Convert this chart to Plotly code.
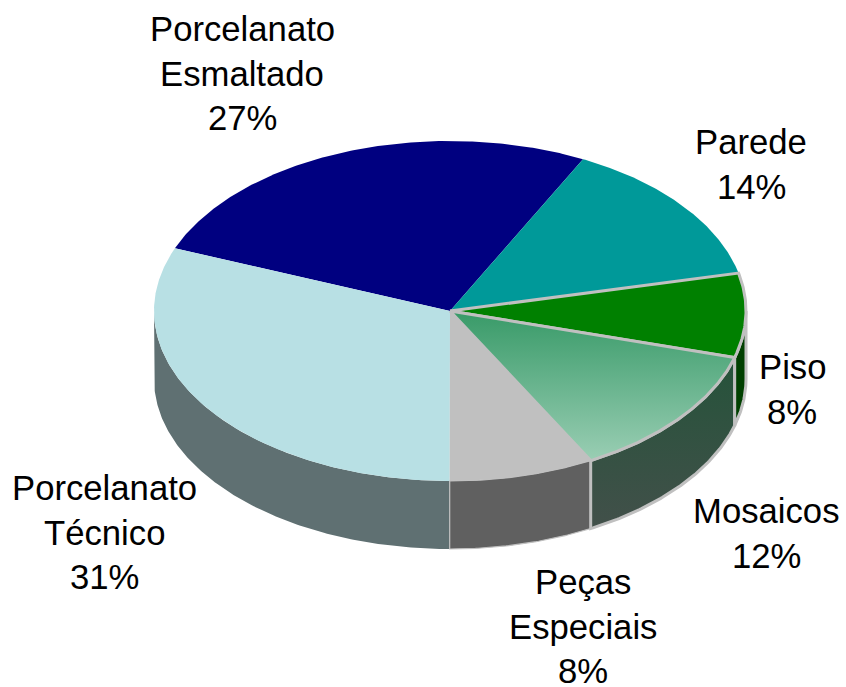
import numpy as np
import plotly.graph_objects as go

# Data
categories = ["Parede", "Piso", "Mosaicos", "Peças Especiais", "Porcelanato Técnico", "Porcelanato Esmaltado"]
shares = [14.0, 8.0, 12.7, 7.9, 31.0, 26.4]      # drawn slice sizes, %
printed = ["14%", "8%", "12%", "8%", "31%", "27%"]  # printed labels
top_colors = ["#009999", "#008000", None, "#C0C0C0", "#B8E0E4", "#000080"]
wall_colors = ["#004D4D", "#004000", None, "#606060", "#5F7072", "#000040"]
label_lines = [["Parede"], ["Piso"], ["Mosaicos"], ["Peças", "Especiais"],
               ["Porcelanato", "Técnico"], ["Porcelanato", "Esmaltado"]]
label_centers = [(751, 142), (792, 367), (766, 511), (583, 582), (104, 488), (242, 29)]

# Pie geometry (pixels)
CX, CY, RX, RY, DEPTH = 450, 311, 296, 170, 68
START = 26.7
LINE_GAP = 44.7
FONT = "Liberation Sans, Arial, sans-serif"
FONT_SIZE = 34.7
EDGE = "#C0C0C0"
MOSAIC_TOP = [[0, "#9ACEB4"], [1, "#389A68"]]
MOSAIC_WALL = [[0, "#42504A"], [1, "#25533A"]]


def arc(a0, a1, dy=0.0):
    t = np.radians(np.linspace(a0, a1, max(2, int(abs(a1 - a0) * 2) + 2)))
    return CX + RX * np.sin(t), CY + dy - RY * np.cos(t)


edges = START + np.concatenate([[0], np.cumsum(shares)]) / sum(shares) * 360
fig = go.Figure()


def polygon(x, y, color, line_w=0, line_c=EDGE, grad=None):
    kw = dict(x=x, y=y, mode="lines", fill="toself", hoverinfo="skip", showlegend=False,
              line=dict(width=line_w, color=line_c if line_w else "rgba(0,0,0,0)"))
    if grad:
        kw["fillgradient"] = dict(type="vertical", colorscale=grad)
    else:
        kw["fillcolor"] = color
    fig.add_trace(go.Scatter(**kw))


# Walls: only the part of each slice that faces the viewer (90..270 degrees)
wall_order = [4, 3, 2, 1]
for i in wall_order:
    a0, a1 = max(edges[i], 90), min(edges[i + 1], 270)
    if a1 <= a0:
        continue
    xt, yt = arc(a0, a1)
    xb, yb = arc(a1, a0, DEPTH)
    x = np.concatenate([xt, xb, xt[:1]])
    y = np.concatenate([yt, yb, yt[:1]])
    if i == 2:
        polygon(x, y, None, 3, EDGE, MOSAIC_WALL)
    elif i == 1:
        polygon(x, y, wall_colors[i], 3)
    elif i == 3:
        polygon(x, y, wall_colors[i], 1.2)
    else:
        polygon(x, y, wall_colors[i])

# Top faces
for i in [5, 0, 4, 3, 1, 2]:
    xa, ya = arc(edges[i], edges[i + 1])
    x = np.concatenate([[CX], xa, [CX]])
    y = np.concatenate([[CY], ya, [CY]])
    if i == 2:
        polygon(x, y, None, 3, EDGE, MOSAIC_TOP)
    elif i == 1:
        polygon(x, y, top_colors[i], 3)
    else:
        polygon(x, y, top_colors[i])

# Labels, one annotation per line so the spacing stays exact
for lines, pct, (lx, ly) in zip(label_lines, printed, label_centers):
    for k, s in enumerate(lines + [pct]):
        fig.add_annotation(x=lx, y=ly + k * LINE_GAP, text=s, showarrow=False,
                           xanchor="center", yanchor="middle",
                           font=dict(family=FONT, size=FONT_SIZE, color="#000000"))

fig.update_layout(
    width=846, height=687, margin=dict(l=0, r=0, t=0, b=0),
    paper_bgcolor="white", plot_bgcolor="white", showlegend=False,
    xaxis=dict(range=[0, 846], visible=False, fixedrange=True),
    yaxis=dict(range=[687, 0], visible=False, fixedrange=True),
)
fig.write_html("out.html", config={"displayModeBar": False},
               post_script="document.body.style.margin='0';document.body.style.overflow='hidden';")
